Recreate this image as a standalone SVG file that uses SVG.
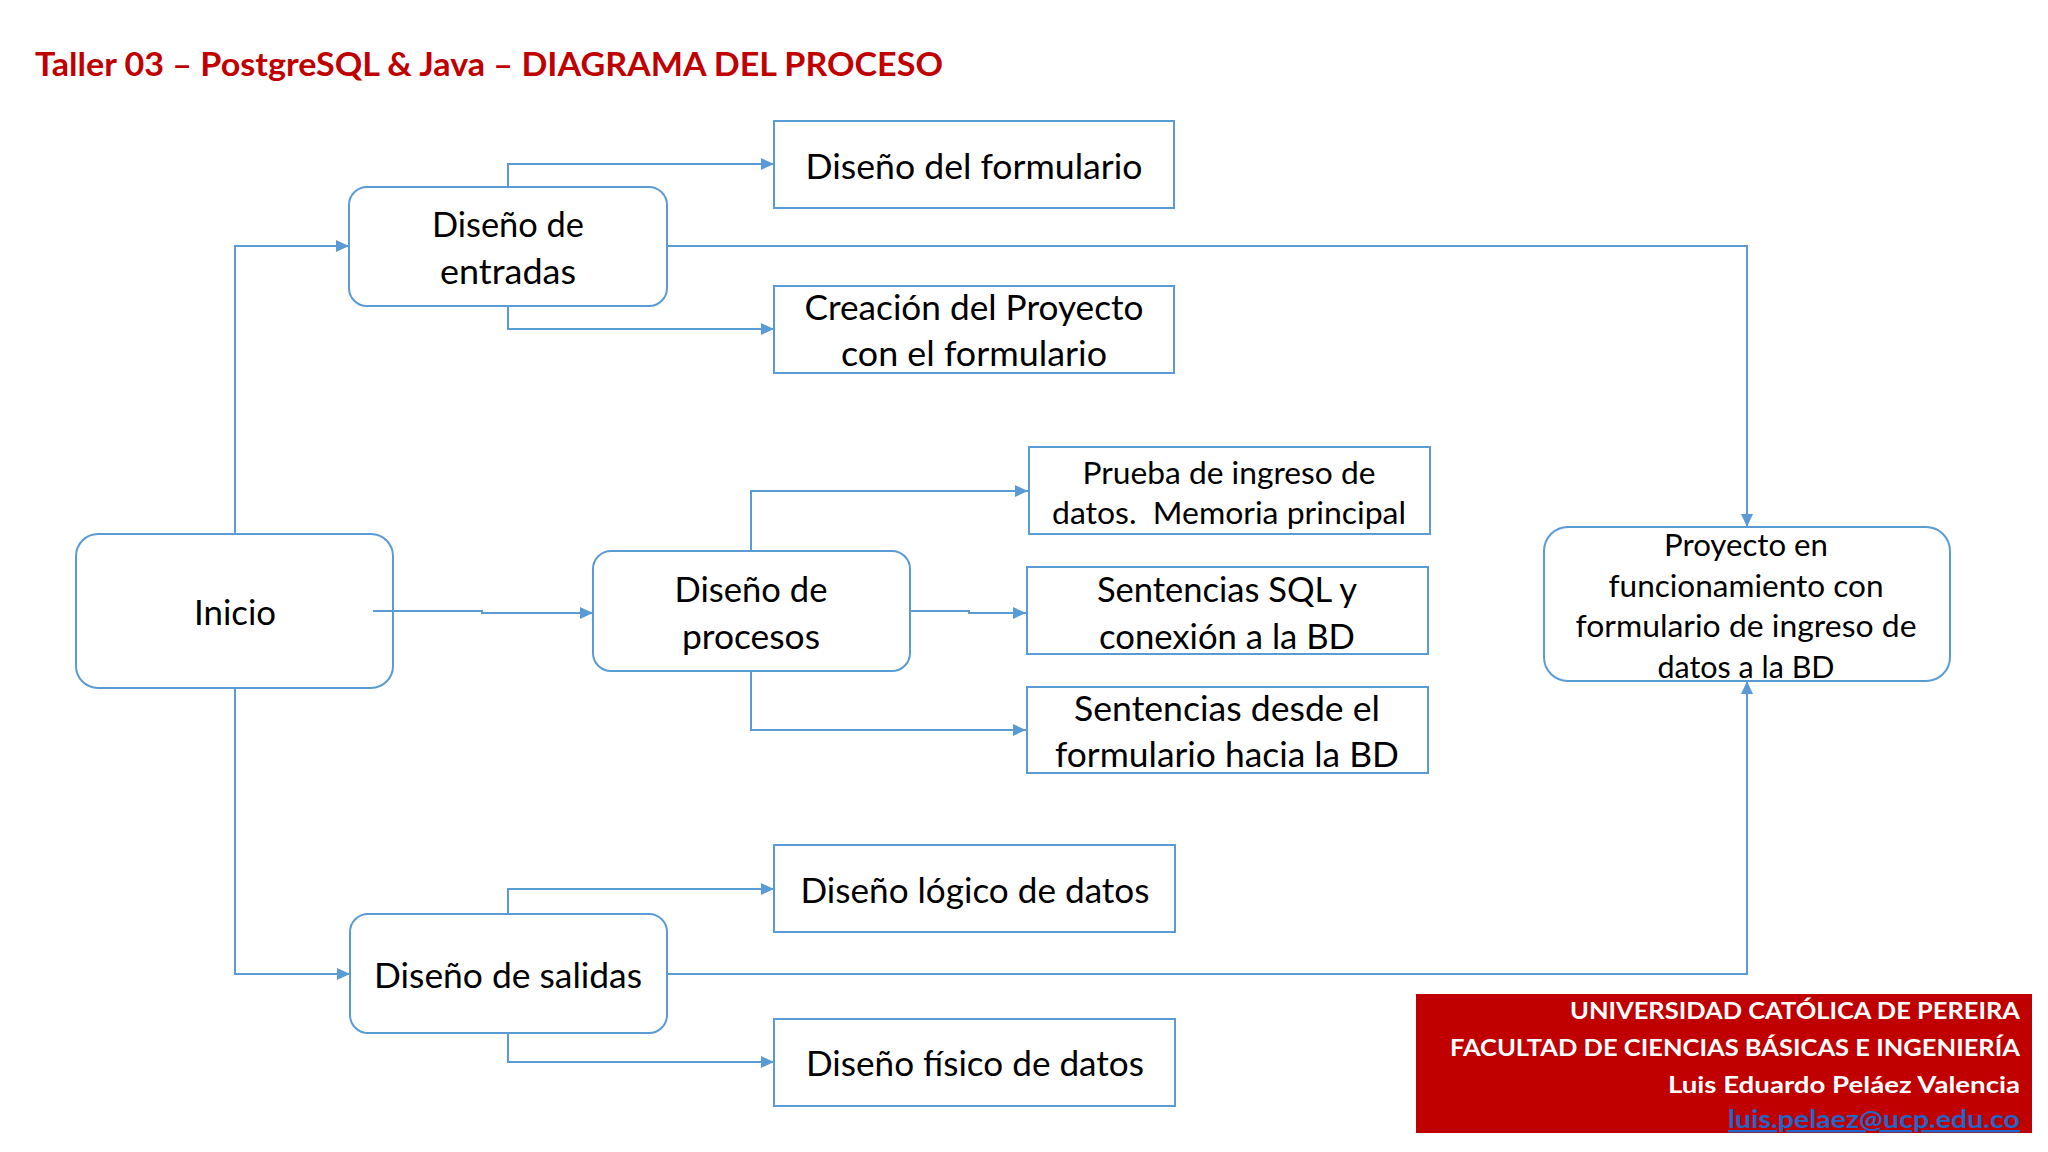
<svg xmlns="http://www.w3.org/2000/svg" width="2048" height="1152" viewBox="0 0 2048 1152">
<style>
.box{fill:#fff;stroke:#5B9BD5;stroke-width:2}
.t{font-family:Lato,"Open Sans","Liberation Sans",sans-serif;font-size:34px;fill:#000;text-anchor:middle}
.s{font-size:31px}
.c{fill:none;stroke:#5B9BD5;stroke-width:2}
.f{font-family:Lato,"Liberation Sans",sans-serif;font-weight:bold;font-size:23px;fill:#fff;text-anchor:end}
</style>
<defs>
<marker id="ah" markerUnits="userSpaceOnUse" markerWidth="14" markerHeight="12" refX="13" refY="6" orient="auto">
<path d="M0,0 L13,6 L0,12 z" fill="#5B9BD5"/>
</marker>
</defs>
<rect width="2048" height="1152" fill="#fff"/>
<text x="35" y="76" font-family="Lato,'Liberation Sans',sans-serif" font-weight="bold" font-size="32" fill="#C00000" textLength="908" lengthAdjust="spacingAndGlyphs">Taller 03 – PostgreSQL &amp; Java – DIAGRAMA DEL PROCESO</text>

<g id="connectors">
<path class="c" d="M235,534 V246 H349" marker-end="url(#ah)"/>
<path class="c" d="M235,688 V974 H350" marker-end="url(#ah)"/>
<path class="c" d="M373,611 H482 V613 H593" marker-end="url(#ah)"/>
<path class="c" d="M508,187 V164 H774" marker-end="url(#ah)"/>
<path class="c" d="M508,306 V329 H774" marker-end="url(#ah)"/>
<path class="c" d="M667,246 H1747 V527" marker-end="url(#ah)"/>
<path class="c" d="M751,551 V491 H1028" marker-end="url(#ah)"/>
<path class="c" d="M910,611 H969 V613 H1026" marker-end="url(#ah)"/>
<path class="c" d="M751,671 V730 H1026" marker-end="url(#ah)"/>
<path class="c" d="M508,914 V889 H774" marker-end="url(#ah)"/>
<path class="c" d="M508,1033 V1062 H774" marker-end="url(#ah)"/>
<path class="c" d="M667,974 H1747 V681" marker-end="url(#ah)"/>
</g>

<g id="inicio">
<rect class="box" x="76" y="534" width="317" height="154" rx="22"/>
<path class="c" d="M373,611 H393"/>
<text class="t" x="235" y="625" textLength="82" lengthAdjust="spacingAndGlyphs">Inicio</text>
</g>

<g id="entradas">
<rect class="box" x="349" y="187" width="318" height="119" rx="18"/>
<text class="t" x="508" y="237" textLength="152" lengthAdjust="spacingAndGlyphs">Diseño de</text>
<text class="t" x="508" y="284" textLength="136" lengthAdjust="spacingAndGlyphs">entradas</text>
</g>

<g id="formulario">
<rect class="box" x="774" y="121" width="400" height="87"/>
<text class="t" x="974" y="179" textLength="337" lengthAdjust="spacingAndGlyphs">Diseño del formulario</text>
</g>

<g id="creacion">
<rect class="box" x="774" y="286" width="400" height="87"/>
<text class="t" x="974" y="320" textLength="339" lengthAdjust="spacingAndGlyphs">Creación del Proyecto</text>
<text class="t" x="974" y="366" textLength="266" lengthAdjust="spacingAndGlyphs">con el formulario</text>
</g>

<g id="procesos">
<rect class="box" x="593" y="551" width="317" height="120" rx="18"/>
<text class="t" x="751" y="602" textLength="153" lengthAdjust="spacingAndGlyphs">Diseño de</text>
<text class="t" x="751" y="649" textLength="138" lengthAdjust="spacingAndGlyphs">procesos</text>
</g>

<g id="prueba">
<rect class="box" x="1029" y="447" width="401" height="87"/>
<text class="t s" x="1229" y="484" textLength="293" lengthAdjust="spacingAndGlyphs">Prueba de ingreso de</text>
<text class="t s" x="1229" y="524" textLength="354" lengthAdjust="spacingAndGlyphs" xml:space="preserve">datos.  Memoria principal</text>
</g>

<g id="sql">
<rect class="box" x="1027" y="567" width="401" height="87"/>
<text class="t" x="1227" y="602" textLength="260" lengthAdjust="spacingAndGlyphs">Sentencias SQL y</text>
<text class="t" x="1227" y="649" textLength="256" lengthAdjust="spacingAndGlyphs">conexión a la BD</text>
</g>

<g id="desde">
<rect class="box" x="1027" y="687" width="401" height="86"/>
<text class="t" x="1227" y="721" textLength="306" lengthAdjust="spacingAndGlyphs">Sentencias desde el</text>
<text class="t" x="1227" y="767" textLength="344" lengthAdjust="spacingAndGlyphs">formulario hacia la BD</text>
</g>

<g id="proyecto">
<rect class="box" x="1544" y="527" width="406" height="154" rx="24"/>
<text class="t s" x="1746" y="556" textLength="164" lengthAdjust="spacingAndGlyphs">Proyecto en</text>
<text class="t s" x="1746" y="597" textLength="275" lengthAdjust="spacingAndGlyphs">funcionamiento con</text>
<text class="t s" x="1746" y="637" textLength="341" lengthAdjust="spacingAndGlyphs">formulario de ingreso de</text>
<text class="t s" x="1746" y="678" textLength="177" lengthAdjust="spacingAndGlyphs">datos a la BD</text>
</g>

<g id="salidas">
<rect class="box" x="350" y="914" width="317" height="119" rx="18"/>
<text class="t" x="508" y="988" textLength="268" lengthAdjust="spacingAndGlyphs">Diseño de salidas</text>
</g>

<g id="logico">
<rect class="box" x="774" y="845" width="401" height="87"/>
<text class="t" x="975" y="903" textLength="349" lengthAdjust="spacingAndGlyphs">Diseño lógico de datos</text>
</g>

<g id="fisico">
<rect class="box" x="774" y="1019" width="401" height="87"/>
<text class="t" x="975" y="1076" textLength="338" lengthAdjust="spacingAndGlyphs">Diseño físico de datos</text>
</g>

<g id="footer">
<rect x="1416" y="994" width="616" height="139" fill="#C00000"/>
<text class="f" x="2020" y="1019" textLength="450" lengthAdjust="spacingAndGlyphs">UNIVERSIDAD CATÓLICA DE PEREIRA</text>
<text class="f" x="2020" y="1056" textLength="570" lengthAdjust="spacingAndGlyphs">FACULTAD DE CIENCIAS BÁSICAS E INGENIERÍA</text>
<text class="f" x="2020" y="1093" textLength="352" lengthAdjust="spacingAndGlyphs">Luis Eduardo Peláez Valencia</text>
<text x="2020" y="1128" font-family="Lato,'Liberation Sans',sans-serif" font-weight="bold" font-size="24" fill="#1F66C8" text-anchor="end" text-decoration="underline" textLength="292" lengthAdjust="spacingAndGlyphs">luis.pelaez@ucp.edu.co</text>
</g>
</svg>
